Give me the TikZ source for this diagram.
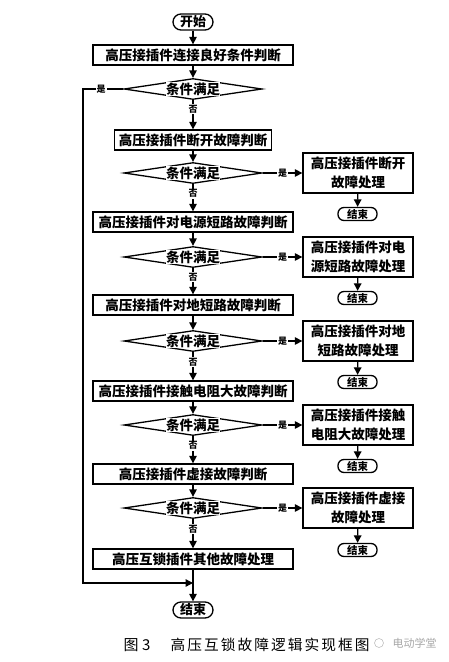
\documentclass[tikz,border=0pt]{standalone}
\usepackage{fontspec}
\setmainfont{Noto Sans CJK SC}
\newfontfamily\capfont{Noto Sans CJK SC}[LetterSpace=14]
\usetikzlibrary{arrows.meta,shapes.geometric}
\begin{document}
\begin{tikzpicture}[x=1pt,y=-1pt,
  line width=1.3pt,
  >={Triangle[length=7.5pt,width=7.5pt]},
  mainbox/.style={draw,rectangle,minimum width=200pt,minimum height=20pt,inner sep=0pt,font=\fontsize{13.5}{14}\selectfont\bfseries},
  sidebox/.style={draw,rectangle,minimum width=110pt,minimum height=40pt,inner sep=0pt,align=center,font=\fontsize{13.5}{19}\selectfont\bfseries},
  cond/.style={draw,diamond,minimum width=138pt,minimum height=21pt,inner sep=0pt},
  condtext/.style={fill=white,inner sep=0.3pt,font=\fontsize{13.5}{14}\selectfont\bfseries},
  term/.style={draw,rectangle,rounded corners=8pt,minimum width=40pt,minimum height=16pt,inner sep=0pt,font=\fontsize{13}{14}\selectfont\bfseries},
  smallterm/.style={draw,rectangle,rounded corners=6pt,minimum width=39pt,minimum height=13pt,inner sep=0pt,font=\fontsize{10.5}{11}\selectfont\bfseries},
  lab/.style={fill=white,inner sep=1pt,font=\fontsize{9}{10}\selectfont\bfseries},
  flow/.style={->}
]
\useasboundingbox (0,0) rectangle (449,662);

% main column
\node[term] (start) at (193,22) {开始};
\node[mainbox] (b1) at (193,55) {高压接插件连接良好条件判断};
\node[cond] (d1) at (193,89) {};
\node[condtext] (d1t) at (d1) {条件满足};
\node[mainbox,minimum width=157pt] (b2) at (193,140) {高压接插件断开故障判断};
\node[cond] (d2) at (193,173) {};
\node[condtext] (d2t) at (d2) {条件满足};
\node[mainbox] (b3) at (193,222) {高压接插件对电源短路故障判断};
\node[cond] (d3) at (193,257) {};
\node[condtext] (d3t) at (d3) {条件满足};
\node[mainbox] (b4) at (193,305) {高压接插件对地短路故障判断};
\node[cond] (d4) at (193,341) {};
\node[condtext] (d4t) at (d4) {条件满足};
\node[mainbox] (b5) at (193,391) {高压接插件接触电阻大故障判断};
\node[cond] (d5) at (193,425) {};
\node[condtext] (d5t) at (d5) {条件满足};
\node[mainbox] (b6) at (193,474) {高压接插件虚接故障判断};
\node[cond] (d6) at (193,508) {};
\node[condtext] (d6t) at (d6) {条件满足};
\node[mainbox] (b7) at (193,559) {高压互锁插件其他故障处理};
\node[term] (endF) at (193,610) {结束};

% side column
\node[sidebox] (s2) at (358,173) {高压接插件断开\\故障处理};
\node[smallterm] (e2) at (357.5,214) {结束};
\node[sidebox] (s3) at (358,257) {高压接插件对电\\源短路故障处理};
\node[smallterm] (e3) at (357.5,298) {结束};
\node[sidebox] (s4) at (358,341) {高压接插件对地\\短路故障处理};
\node[smallterm] (e4) at (357.5,382) {结束};
\node[sidebox] (s5) at (358,425) {高压接插件接触\\电阻大故障处理};
\node[smallterm] (e5) at (357.5,466) {结束};
\node[sidebox] (s6) at (358,508) {高压接插件虚接\\故障处理};
\node[smallterm] (e6) at (357.5,550) {结束};

% main flow
\draw[flow] (start) -- (b1);
\draw[flow] (b1) -- (d1);
\draw[flow] (d1) -- node[lab,pos=0.3]{否} (b2);
\draw[flow] (b2) -- (d2);
\draw[flow] (d2) -- node[lab,pos=0.35]{否} (b3);
\draw[flow] (b3) -- (d3);
\draw[flow] (d3) -- node[lab,pos=0.35]{否} (b4);
\draw[flow] (b4) -- (d4);
\draw[flow] (d4) -- node[lab,pos=0.35]{否} (b5);
\draw[flow] (b5) -- (d5);
\draw[flow] (d5) -- node[lab,pos=0.35]{否} (b6);
\draw[flow] (b6) -- (d6);
\draw[flow] (d6) -- node[lab,pos=0.35]{否} (b7);
\draw[flow] (b7) -- (endF);

% yes branches
\foreach \i in {2,...,6}{
  \draw[flow] (d\i.east) -- node[lab]{是} (s\i.west);
  \draw[flow] (s\i) -- (e\i);
}

% bypass loop
\coordinate (lc1) at (83,89);
\coordinate (lc2) at (83,583);
\coordinate (jn) at (b7.south |- lc2);
\draw[flow] (d1.west) -- node[lab,pos=0.55]{是} (lc1) -- (lc2) -- (jn);

% caption
\node[anchor=west,inner sep=0pt,font=\fontsize{15}{16}\selectfont] (cap1) at (123,645) {图 3};
\node[anchor=west,inner sep=0pt,font=\capfont\fontsize{14.7}{16}\selectfont] (cap2) at (170,645) {高压互锁故障逻辑实现框图};
\node[circle,draw=black!25,line width=0.6pt,minimum size=9pt,inner sep=0pt] (wmicon) at (379,643) {};
\node[anchor=west,inner sep=0pt,text=black!35,font=\fontsize{11}{12}\selectfont] (wm) at (392,643) {电动学堂};
\end{tikzpicture}
\end{document}
